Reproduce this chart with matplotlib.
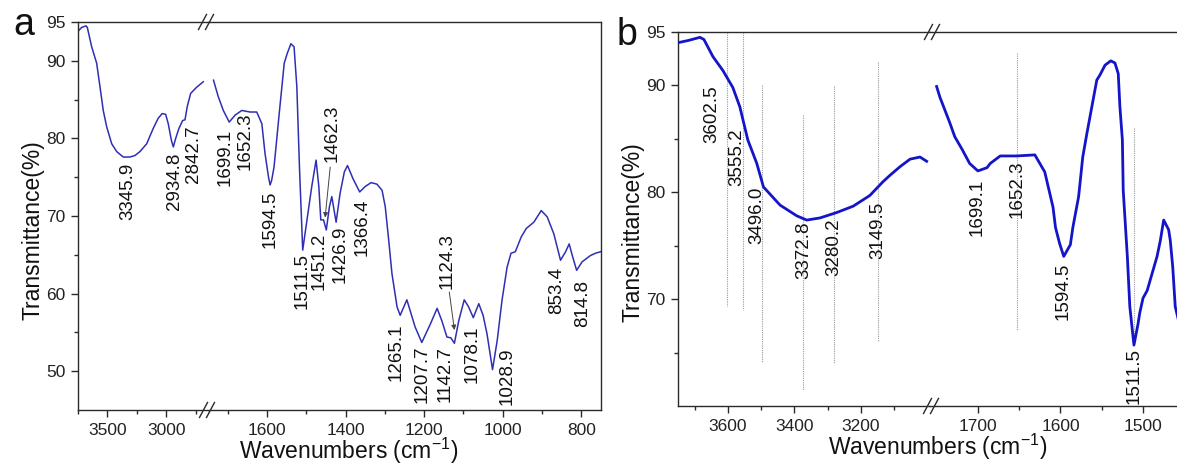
import matplotlib
matplotlib.use('Agg')
import matplotlib.pyplot as plt
from matplotlib.lines import Line2D
from matplotlib.ticker import FixedLocator

plt.rcParams['font.family'] = ['Liberation Sans', 'DejaVu Sans']
plt.rcParams['mathtext.fontset'] = 'custom'
plt.rcParams['mathtext.rm'] = 'Liberation Sans'
plt.rcParams['mathtext.it'] = 'Liberation Sans:italic'
plt.rcParams['mathtext.default'] = 'regular'

# ---------------- data: panel a ----------------
wa_high = [3750, 3719, 3682, 3671, 3634, 3592, 3564, 3536, 3507, 3464, 3422, 3366, 3309,
           3267, 3225, 3168, 3112, 3070, 3036, 3007, 2985, 2959, 2942, 2922, 2894, 2863,
           2843, 2824, 2795, 2744, 2688]
ta_high = [93.8, 94.3, 94.5, 94.3, 91.8, 89.7, 86.7, 83.6, 81.5, 79.3, 78.3, 77.6, 77.6,
           77.8, 78.3, 79.3, 81.3, 82.6, 83.2, 83.1, 81.9, 79.8, 78.9, 80.0, 81.3, 82.3,
           82.4, 84.1, 85.8, 86.6, 87.3]
wa_low = [1736, 1724, 1711, 1696, 1681, 1664, 1643, 1626, 1613, 1605, 1596, 1592, 1588,
          1582, 1568, 1556, 1548, 1539, 1531, 1524, 1517, 1509, 1497, 1486, 1475, 1468,
          1463, 1456, 1449, 1441, 1435, 1429, 1424, 1414, 1403, 1395, 1381, 1364, 1350,
          1335, 1320, 1307, 1299, 1291, 1282, 1269, 1261, 1244, 1223, 1206, 1184, 1167,
          1155, 1142, 1132, 1123, 1112, 1098, 1087, 1075, 1061, 1050, 1040, 1026, 1014,
          1002, 989, 979, 968, 953, 940, 921, 902, 887, 870, 853, 840, 831, 823, 812, 798,
          777, 764, 751]
ta_low = [87.5, 85.4, 83.6, 82.1, 83.0, 83.6, 83.4, 83.4, 81.9, 78.1, 75.0, 74.0, 74.6,
          76.3, 83.6, 89.7, 91.0, 92.2, 91.8, 86.7, 75.9, 65.6, 69.9, 73.8, 77.2, 73.8,
          69.5, 69.5, 68.2, 71.2, 72.5, 70.7, 69.2, 72.9, 75.7, 76.5, 74.8, 73.1, 73.8,
          74.3, 74.1, 73.3, 71.2, 67.3, 62.6, 58.3, 57.2, 59.2, 55.7, 53.7, 56.1, 58.1,
          56.5, 54.4, 54.3, 53.6, 56.5, 59.2, 58.3, 56.9, 58.7, 57.2, 54.8, 50.2, 54.0,
          59.1, 63.4, 65.2, 65.4, 67.3, 68.4, 69.2, 70.7, 69.9, 67.7, 64.3, 65.4, 66.4,
          64.9, 63.0, 64.1, 64.9, 65.2, 65.4]

labels_a_high = ['3345.9', '2934.8', '2842.7']
labels_a_low = ['1699.1', '1652.3', '1594.5', '1511.5', '1451.2', '1426.9', '1366.4',
                '1462.3', '1265.1', '1207.7', '1142.7', '1124.3', '1078.1', '1028.9',
                '853.4', '814.8']

# ---------------- data: panel b ----------------
wb_high = [3750, 3720, 3684, 3672, 3645, 3615, 3585, 3564, 3540, 3513, 3493, 3443, 3393,
           3363, 3323, 3273, 3223, 3173, 3133, 3112, 3082, 3052, 3022, 3002]
tb_high = [94.0, 94.2, 94.5, 94.3, 92.7, 91.4, 89.8, 88.0, 84.9, 82.7, 80.5, 78.8, 77.8,
           77.4, 77.6, 78.1, 78.7, 79.7, 81.0, 81.6, 82.4, 83.1, 83.3, 82.9]
wb_low = [1750, 1746, 1734, 1728, 1719, 1710, 1700, 1689, 1685, 1673, 1653, 1631, 1619,
          1609, 1606, 1601, 1596, 1588, 1585, 1578, 1573, 1568, 1562, 1556, 1552, 1546,
          1539, 1534, 1530, 1528, 1525, 1524, 1519, 1516, 1511, 1506, 1504, 1500,
          1495, 1483, 1479, 1475, 1469, 1467, 1464, 1461, 1457]
tb_low = [89.9, 88.9, 86.5, 85.2, 84.0, 82.7, 82.0, 82.3, 82.7, 83.4, 83.4, 83.5, 81.9,
          78.6, 76.7, 75.2, 74.0, 75.1, 76.7, 79.6, 83.3, 85.5, 88.0, 90.5, 91.0, 91.9,
          92.3, 92.1, 91.1, 88.0, 84.9, 80.2, 74.0, 69.3, 65.7, 67.7, 68.7, 70.1,
          70.8, 74.0, 75.5, 77.4, 76.5, 75.5, 73.0, 69.3, 68.0]

labels_b_high = ['3602.5', '3555.2', '3496.0', '3372.8', '3280.2', '3149.5']
labels_b_low = ['1699.1', '1652.3', '1594.5', '1511.5']

# ---------------- layout ----------------
W, H = 1177, 465
fig = plt.figure(figsize=(W / 100, H / 100), dpi=100)


def add_ax(x0, x1, y0, y1):
    return fig.add_axes([x0 / W, 1 - y1 / H, (x1 - x0) / W, (y1 - y0) / H])


SPC = '#2a2a2a'
TICK_FS = 12.5
LAB_FS = 13.5
AX_FS = 16.5


def style(ax, left=True, right=False):
    for s in ax.spines.values():
        s.set_color(SPC)
        s.set_linewidth(1.0)
    ax.spines['left'].set_visible(left)
    ax.spines['right'].set_visible(right)
    ax.tick_params(axis='both', which='major', direction='out', length=5, width=1.0,
                   labelsize=TICK_FS, pad=4, colors=SPC, labelcolor='#222')
    ax.tick_params(axis='both', which='minor', direction='out', length=3, width=1.0,
                   colors=SPC)
    ax.tick_params(top=False, right=False, which='both')
    if not left:
        ax.tick_params(axis='y', which='both', left=False, labelleft=False)


def brk(xc, yc):
    for d in (-3.5, 3.5):
        x0, x1 = xc + d - 4, xc + d + 4
        y0, y1 = yc + 7.5, yc - 7.5
        fig.add_artist(Line2D([x0 / W, x1 / W], [1 - y0 / H, 1 - y1 / H],
                              color=SPC, lw=1.0, transform=fig.transFigure))


# ----- panel a -----
ca = '#2f2fb4'
a1 = add_ax(78, 208, 22, 410)
a2 = add_ax(208, 601, 22, 410)
for ax in (a1, a2):
    ax.set_ylim(45, 95)
a1.set_xlim(3750, 2648)
a2.set_xlim(1750, 750)
style(a1, left=True, right=False)
style(a2, left=False, right=True)
a1.plot(wa_high, ta_high, color=ca, lw=1.1)
a2.plot(wa_low, ta_low, color=ca, lw=1.1)
a1.set_yticks([50, 60, 70, 80, 90, 95])
a1.yaxis.set_minor_locator(FixedLocator([55, 65, 75, 85]))
a1.set_xticks([3500, 3000])
a1.xaxis.set_minor_locator(FixedLocator([3750, 3250, 2750]))
a2.set_xticks([1600, 1400, 1200, 1000, 800])
a2.xaxis.set_minor_locator(FixedLocator([1700, 1500, 1300, 1100, 900]))

pos_a_high = [(3326, 76.8), (2936, 78.2), (2775, 81.7)]
pos_a_low = [(1707, 81.3), (1656, 83.3), (1592, 73.3), (1510, 65.2), (1467, 67.8),
             (1414, 68.8), (1358, 72.3), (1434, 84.3), (1271, 56.2), (1205, 53.3),
             (1146, 53.3), (1141, 67.8), (1077, 55.9), (990, 53.1), (863, 63.4), (797, 61.7)]
for t, (x, y) in zip(labels_a_high, pos_a_high):
    a1.text(x, y, t, rotation=90, ha='center', va='top', fontsize=LAB_FS, color='#111')
for t, (x, y) in zip(labels_a_low, pos_a_low):
    a2.text(x, y, t, rotation=90, ha='center', va='top', fontsize=LAB_FS, color='#111')
arrow_kw = dict(arrowstyle='-|>', color='#444', lw=0.7, mutation_scale=7, shrinkA=0, shrinkB=0)
a2.annotate('', xy=(1452, 69.8), xytext=(1439, 76.3), arrowprops=arrow_kw)
a2.annotate('', xy=(1123, 55.3), xytext=(1136, 60.2), arrowprops=arrow_kw)
brk(206, 22)
brk(207, 410)

fig.text(33 / W, 1 - 230 / H, 'Transmittance(%)', rotation=90, ha='center', va='center',
         fontsize=AX_FS, color='#111')
fig.text(349 / W, 1 - 459 / H, 'Wavenumbers (cm$^{-1}$)', ha='center', va='baseline',
         fontsize=AX_FS, color='#111')
fig.text(13 / W, 1 - 35 / H, 'a', fontsize=27, ha='left', va='baseline', color='#111')

# ----- panel b -----
cb = '#1414c8'
b1 = add_ax(678, 930, 32, 406)
b2 = add_ax(930, 1200, 32, 406)
for ax in (b1, b2):
    ax.set_ylim(60, 95)
b1.set_xlim(3750, 2992)
b2.set_xlim(1758, 1431)
style(b1, left=True, right=False)
style(b2, left=False, right=False)
b1.set_yticks([70, 80, 90, 95])
b1.yaxis.set_minor_locator(FixedLocator([65, 75, 85]))
b1.set_xticks([3600, 3400, 3200])
b1.xaxis.set_minor_locator(FixedLocator([3700, 3500, 3300, 3100]))
b2.set_xticks([1700, 1600, 1500])
b2.xaxis.set_minor_locator(FixedLocator([1650, 1550]))

vl_high = [(3602.5, 95.0, 69.4), (3555.2, 95.0, 69.0), (3496.0, 90.0, 64.1),
           (3372.8, 87.2, 61.5), (3280.2, 89.9, 64.0), (3149.5, 92.2, 66.0)]
vl_low = [(1652.3, 93.0, 67.1), (1511.5, 86.0, 66.2)]
for x, y0, y1 in vl_high:
    b1.plot([x, x], [y0, y1], color='#9a9a9a', lw=0.8, ls=(0, (1, 1)), zorder=1)
for x, y0, y1 in vl_low:
    b2.plot([x, x], [y0, y1], color='#9a9a9a', lw=0.8, ls=(0, (1, 1)), zorder=1)

b1.plot(wb_high, tb_high, color=cb, lw=2.0, zorder=3)
b2.plot(wb_low, tb_low, color=cb, lw=2.0, zorder=3)

pos_b_high = [(3648, 90.0), (3573, 86.0), (3512, 80.5), (3372, 77.3), (3280, 77.6), (3150, 79.1)]
pos_b_low = [(1701, 81.3), (1653, 83.0), (1597, 73.4), (1511, 65.4)]
for t, (x, y) in zip(labels_b_high, pos_b_high):
    b1.text(x, y, t, rotation=90, ha='center', va='top', fontsize=LAB_FS, color='#111', zorder=4)
for t, (x, y) in zip(labels_b_low, pos_b_low):
    b2.text(x, y, t, rotation=90, ha='center', va='top', fontsize=LAB_FS, color='#111', zorder=4)
brk(932, 32)
brk(931, 406)

fig.text(633 / W, 1 - 232 / H, 'Transmittance(%)', rotation=90, ha='center', va='center',
         fontsize=AX_FS, color='#111')
fig.text(938 / W, 1 - 455 / H, 'Wavenumbers (cm$^{-1}$)', ha='center', va='baseline',
         fontsize=AX_FS, color='#111')
fig.text(617 / W, 1 - 45 / H, 'b', fontsize=27, ha='left', va='baseline', color='#111')

fig.savefig('out.png', dpi=100)
